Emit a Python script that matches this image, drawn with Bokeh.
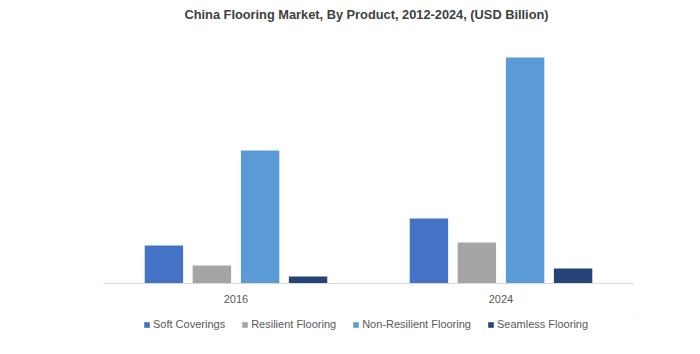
from bokeh.plotting import figure
from bokeh.layouts import column
from bokeh.models import FactorRange, Range1d, Legend, LegendItem, ColumnDataSource, Label
from bokeh.transform import dodge
from bokeh.embed import file_html
from bokeh.resources import INLINE

title_text = "China Flooring Market, By Product, 2012-2024, (USD Billion)"
years = ["2016", "2024"]
series = ["Soft Coverings", "Resilient Flooring", "Non-Resilient Flooring", "Seamless Flooring"]
soft = [3.8, 6.5]
resilient = [1.8, 4.1]
non_resilient = [13.3, 22.6]
seamless = [0.7, 1.5]
colors = ["#4472C4", "#A5A5A5", "#5B9BD5", "#264478"]

source = ColumnDataSource(dict(year=years, s0=soft, s1=resilient, s2=non_resilient, s3=seamless))

p = figure(x_range=FactorRange(factors=years, range_padding=0), y_range=Range1d(0, 28.3),
           width=700, height=314, output_backend="svg", toolbar_location=None,
           min_border_left=103, min_border_right=67, min_border_top=0, min_border_bottom=31)

# title drawn inside the (transparent) top of the frame
p.add_layout(Label(x=263, y=269, x_units="screen", y_units="screen", text=title_text,
                   text_align="center", text_baseline="middle",
                   text_font="Liberation Sans", text_font_size="12.8px",
                   text_font_style="bold", text_color="#404040"))

offsets = [-0.272, -0.091, 0.091, 0.272]
for i, (name, off, col) in enumerate(zip(series, offsets, colors)):
    p.vbar(x=dodge("year", off, range=p.x_range), top="s%d" % i, width=0.145,
           source=source, fill_color=col, line_color=None)

p.yaxis.visible = False
p.xgrid.visible = False
p.ygrid.visible = False
p.outline_line_color = None
p.xaxis.axis_line_color = "#D9D9D9"
p.xaxis.major_tick_line_color = None
p.xaxis.minor_tick_line_color = None
p.xaxis.major_label_standoff = 5
p.xaxis.major_label_text_font = "Liberation Sans"
p.xaxis.major_label_text_font_size = "11px"
p.xaxis.major_label_text_color = "#595959"

# legend strip below the chart (its renderers sit outside the visible range)
lf = figure(width=700, height=40, output_backend="svg", toolbar_location=None,
            x_axis_type=None, y_axis_type=None, x_range=Range1d(0, 1), y_range=Range1d(0, 1),
            min_border_left=103, min_border_right=67, min_border_top=0, min_border_bottom=0)
lf.outline_line_color = None
lf.xgrid.visible = False
lf.ygrid.visible = False
items = []
for name, col in zip(series, colors):
    r = lf.vbar(x=[5], top=[5], bottom=[4], width=0.1, fill_color=col, line_color=None)
    items.append(LegendItem(label=name, renderers=[r]))
legend = Legend(items=items, orientation="horizontal", location=(40, 24),
                glyph_width=7, glyph_height=7, label_standoff=3, spacing=16,
                label_text_font="Liberation Sans", label_text_font_size="11px",
                label_text_color="#595959", border_line_color=None,
                background_fill_alpha=0, padding=0, margin=0)
lf.add_layout(legend, "center")

layout = column(p, lf, spacing=0)
open("out.html", "w").write(file_html(layout, INLINE))
